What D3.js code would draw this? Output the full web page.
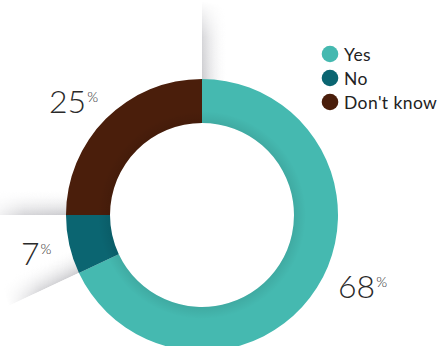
<!DOCTYPE html>
<html>
<head>
<meta charset="utf-8">
<script src="https://cdn.jsdelivr.net/npm/d3@7"></script>
<style>
  html, body { margin: 0; padding: 0; background: #fff; }
  svg { display: block; }
  .pct { font-family: Lato, "Open Sans", sans-serif; font-weight: 300; fill: #2a2a2a; }
  .legend text { font-family: Lato, "Open Sans", sans-serif; font-weight: 400; fill: #222; letter-spacing: 0.4px; }
</style>
</head>
<body>
<svg id="chart" width="441" height="346"></svg>
<script>
// Survey answers
const categories = ["Yes", "No", "Don't know"];
const values = [68, 7, 25];
const colors = ["#45b9b0", "#0b6571", "#4a1e0b"];

const width = 441, height = 346;
const cx = 202, cy = 215;
const outerR = 136, innerR = 92;

const svg = d3.select("#chart");
const defs = svg.append("defs");

const pie = d3.pie().sort(null).value(d => d.value);
const arcs = pie(categories.map((c, i) => ({ name: c, value: values[i], color: colors[i] })));
const arc = d3.arc().innerRadius(innerR).outerRadius(outerR);

// Soft grey shadow fans that fall outward from the start edge of each slice
const fanLen = 78, fanSpread = 0.30;
const fanGroup = svg.append("g").attr("transform", `translate(${cx},${cy})`);
arcs.forEach((a, i) => {
  const t0 = a.startAngle;
  const pt = (r, t) => [r * Math.sin(t), -r * Math.cos(t)];
  const p0 = pt(outerR - 2, t0);
  const p1 = pt(outerR + fanLen, t0);
  const p2 = pt(outerR + fanLen * 0.95, t0 + fanSpread);
  const p3 = pt(outerR - 2, t0 + fanSpread * 0.5);
  // gradient across the fan: dark on the edge line, fading into the slice side
  const gid = "fan" + i;
  const nrm = [Math.cos(t0), Math.sin(t0)]; // clockwise normal
  const mid = pt(outerR + fanLen * 0.25, t0);
  const g = defs.append("linearGradient").attr("id", gid)
    .attr("gradientUnits", "userSpaceOnUse")
    .attr("x1", mid[0]).attr("y1", mid[1])
    .attr("x2", mid[0] + nrm[0] * 26).attr("y2", mid[1] + nrm[1] * 26);
  g.append("stop").attr("offset", 0).attr("stop-color", "#c6c6ca").attr("stop-opacity", 0.9);
  g.append("stop").attr("offset", 1).attr("stop-color", "#ffffff").attr("stop-opacity", 0);
  // fade along the length of the fan
  const fade = defs.append("linearGradient").attr("id", gid + "m")
    .attr("gradientUnits", "userSpaceOnUse")
    .attr("x1", p0[0]).attr("y1", p0[1]).attr("x2", p1[0]).attr("y2", p1[1]);
  fade.append("stop").attr("offset", 0).attr("stop-color", "#fff").attr("stop-opacity", 1);
  fade.append("stop").attr("offset", 0.55).attr("stop-color", "#fff").attr("stop-opacity", 0.8);
  fade.append("stop").attr("offset", 1).attr("stop-color", "#fff").attr("stop-opacity", 0);
  const mask = defs.append("mask").attr("id", gid + "mask").attr("maskUnits", "userSpaceOnUse")
    .attr("x", -width).attr("y", -height).attr("width", width * 2).attr("height", height * 2);
  mask.append("path").attr("d", `M${p0}L${p1}L${p2}L${p3}Z`).attr("fill", `url(#${gid}m)`);
  fanGroup.append("path")
    .attr("d", `M${p0}L${p1}L${p2}L${p3}Z`)
    .attr("fill", `url(#${gid})`)
    .attr("mask", `url(#${gid}mask)`);
});

// Ring with a faint shade along the inner rim
const ring = svg.append("g").attr("transform", `translate(${cx},${cy})`);
ring.selectAll("path.slice")
  .data(arcs)
  .join("path")
  .attr("class", "slice")
  .attr("d", arc)
  .attr("fill", d => d.data.color);

const shade = defs.append("radialGradient").attr("id", "rimShade")
  .attr("gradientUnits", "userSpaceOnUse").attr("cx", 0).attr("cy", 0).attr("r", outerR);
shade.append("stop").attr("offset", innerR / outerR).attr("stop-color", "#000").attr("stop-opacity", 0.08);
shade.append("stop").attr("offset", (innerR + 12) / outerR).attr("stop-color", "#000").attr("stop-opacity", 0.0);
shade.append("stop").attr("offset", 1).attr("stop-color", "#000").attr("stop-opacity", 0);
ring.append("path")
  .attr("d", d3.arc().innerRadius(innerR).outerRadius(outerR).startAngle(0).endAngle(2 * Math.PI)())
  .attr("fill", "url(#rimShade)");

// Percentage labels placed outside the ring
const labelPos = [
  { x: 338, y: 298 },  // Yes
  { x: 21, y: 265 },   // No
  { x: 49, y: 113 }    // Don't know
];
arcs.forEach((a, i) => {
  const t = svg.append("text").attr("class", "pct")
    .attr("x", labelPos[i].x).attr("y", labelPos[i].y);
  t.append("tspan").attr("font-size", 32).text(a.data.value);
  t.append("tspan").attr("font-size", 14).attr("dx", 1).attr("dy", -11).text("%");
});

// Legend
const legend = svg.append("g").attr("class", "legend").attr("transform", "translate(330,54)");
const items = legend.selectAll("g").data(categories).join("g")
  .attr("transform", (d, i) => `translate(0,${i * 24})`);
items.append("circle").attr("r", 8.3).attr("fill", (d, i) => colors[i]);
items.append("text").attr("x", 14).attr("y", 6.5).attr("font-size", 17.5).text(d => d);
</script>
</body>
</html>
